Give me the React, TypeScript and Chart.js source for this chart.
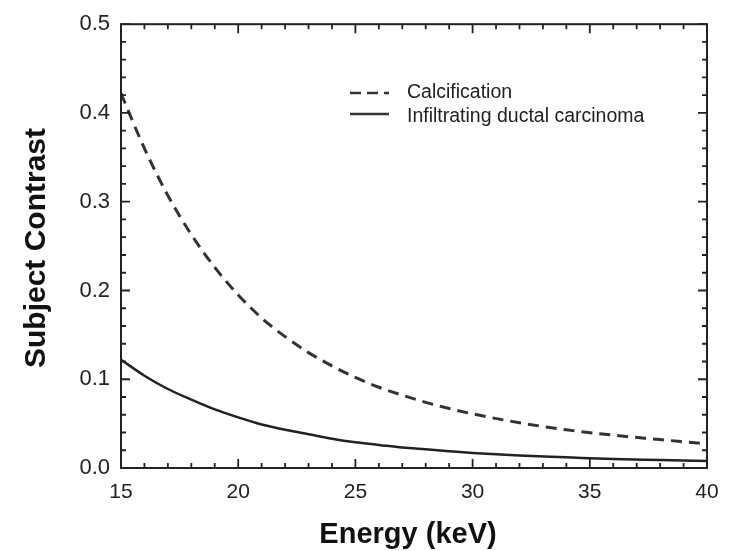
import React, { useEffect, useRef } from "react";
import { Chart, registerables } from "chart.js";
Chart.register(...registerables);

const energy = [15, 16, 17, 18, 19, 20, 21, 22, 23, 24, 25, 26, 27, 28, 29, 30, 32, 34, 36, 38, 40];
const calcification = [0.422, 0.36, 0.307, 0.263, 0.226, 0.195, 0.169, 0.148, 0.13, 0.115, 0.102, 0.091, 0.082, 0.074, 0.067, 0.061, 0.051, 0.043, 0.037, 0.032, 0.027];
const carcinoma = [0.122, 0.104, 0.089, 0.077, 0.066, 0.057, 0.049, 0.043, 0.038, 0.033, 0.029, 0.026, 0.023, 0.021, 0.019, 0.017, 0.014, 0.012, 0.01, 0.009, 0.008];
const seriesNames = ["Calcification", "Infiltrating ductal carcinoma"];
const xTitle = "Energy (keV)";
const yTitle = "Subject Contrast";
const xRange = [15, 40];
const yRange = [0, 0.5];
const xMajor = 5;
const xMinor = 1;
const yMajor = 0.1;
const yMinor = 0.02;

const INK = "#222";
const FONT = "'Liberation Sans', Arial, sans-serif";

const framePlugin = {
  id: "frame",
  afterDraw(chart: any) {
    const { ctx, chartArea: a, scales } = chart;
    const xs = scales.x;
    const ys = scales.y;
    ctx.save();
    ctx.strokeStyle = INK;
    ctx.lineWidth = 2;
    ctx.strokeRect(a.left, a.top, a.right - a.left, a.bottom - a.top);
    ctx.lineWidth = 1.8;
    ctx.beginPath();
    const nx = Math.round((xRange[1] - xRange[0]) / xMinor);
    for (let i = 0; i <= nx; i++) {
      const v = xRange[0] + i * xMinor;
      const p = xs.getPixelForValue(v);
      const major = Math.abs(v / xMajor - Math.round(v / xMajor)) < 1e-6;
      const len = major ? 9 : 5;
      ctx.moveTo(p, a.bottom);
      ctx.lineTo(p, a.bottom - len);
      ctx.moveTo(p, a.top);
      ctx.lineTo(p, a.top + len);
    }
    const ny = Math.round((yRange[1] - yRange[0]) / yMinor);
    for (let i = 0; i <= ny; i++) {
      const v = yRange[0] + i * yMinor;
      const p = ys.getPixelForValue(v);
      const major = Math.abs(v / yMajor - Math.round(v / yMajor)) < 1e-6;
      const len = major ? 9 : 5;
      ctx.moveTo(a.left, p);
      ctx.lineTo(a.left + len, p);
      ctx.moveTo(a.right, p);
      ctx.lineTo(a.right - len, p);
    }
    ctx.stroke();

    // axis titles
    ctx.fillStyle = "#111";
    ctx.font = `bold 29px ${FONT}`;
    ctx.textAlign = "center";
    ctx.textBaseline = "alphabetic";
    ctx.fillText(xTitle, 408, 543);
    ctx.save();
    ctx.font = `bold 30px ${FONT}`;
    ctx.translate(45, 248);
    ctx.rotate(-Math.PI / 2);
    ctx.fillText(yTitle, 0, 0);
    ctx.restore();

    // legend
    const lx0 = 350, lx1 = 389, tx = 407;
    const rows = [93, 117];
    ctx.lineWidth = 2.5;
    ctx.strokeStyle = "#333";
    ctx.setLineDash([11, 6]);
    ctx.beginPath();
    ctx.moveTo(lx0, rows[0]);
    ctx.lineTo(lx1, rows[0]);
    ctx.stroke();
    ctx.setLineDash([]);
    ctx.beginPath();
    ctx.moveTo(lx0, rows[1] - 3);
    ctx.lineTo(lx1, rows[1] - 3);
    ctx.stroke();
    ctx.font = `19.5px ${FONT}`;
    ctx.textAlign = "left";
    ctx.textBaseline = "middle";
    ctx.fillStyle = "#222";
    ctx.fillText(seriesNames[0], tx, rows[0]);
    ctx.fillText(seriesNames[1], tx, rows[1]);
    ctx.restore();
  },
};

export default function App() {
  const ref = useRef<HTMLCanvasElement>(null);
  useEffect(() => {
    if (!ref.current) return;
    const chart = new Chart(ref.current, {
      type: "line",
      data: {
        datasets: [
          {
            label: seriesNames[0],
            data: energy.map((e, i) => ({ x: e, y: calcification[i] })),
            borderColor: "#333",
            borderWidth: 3,
            borderDash: [11, 7],
            pointRadius: 0,
            fill: false,
            cubicInterpolationMode: "monotone",
          },
          {
            label: seriesNames[1],
            data: energy.map((e, i) => ({ x: e, y: carcinoma[i] })),
            borderColor: "#222",
            borderWidth: 2.5,
            pointRadius: 0,
            fill: false,
            cubicInterpolationMode: "monotone",
          },
        ],
      },
      options: {
        responsive: false,
        animation: false,
        layout: { padding: { top: 20, right: 28, left: 0, bottom: 0 } },
        plugins: { legend: { display: false }, tooltip: { enabled: false } },
        scales: {
          x: {
            type: "linear",
            min: xRange[0],
            max: xRange[1],
            grid: { display: false, drawTicks: false },
            border: { display: false },
            ticks: {
              stepSize: xMajor,
              padding: 12,
              color: INK,
              font: { family: FONT, size: 21 },
            },
            afterFit: (s: any) => {
              s.height = 83;
            },
          },
          y: {
            type: "linear",
            min: yRange[0],
            max: yRange[1],
            grid: { display: false, drawTicks: false },
            border: { display: false },
            ticks: {
              stepSize: yMajor,
              padding: 11,
              color: INK,
              font: { family: FONT, size: 22 },
              callback: (v: any) => Number(v).toFixed(1),
            },
            afterFit: (s: any) => {
              s.width = 121;
            },
          },
        },
      },
      plugins: [framePlugin],
    });
    return () => chart.destroy();
  }, []);
  return (
    <div style={{ position: "fixed", left: 0, top: 0, width: 735, height: 551, background: "#fff" }}>
      <canvas ref={ref} width={735} height={551} />
    </div>
  );
}
